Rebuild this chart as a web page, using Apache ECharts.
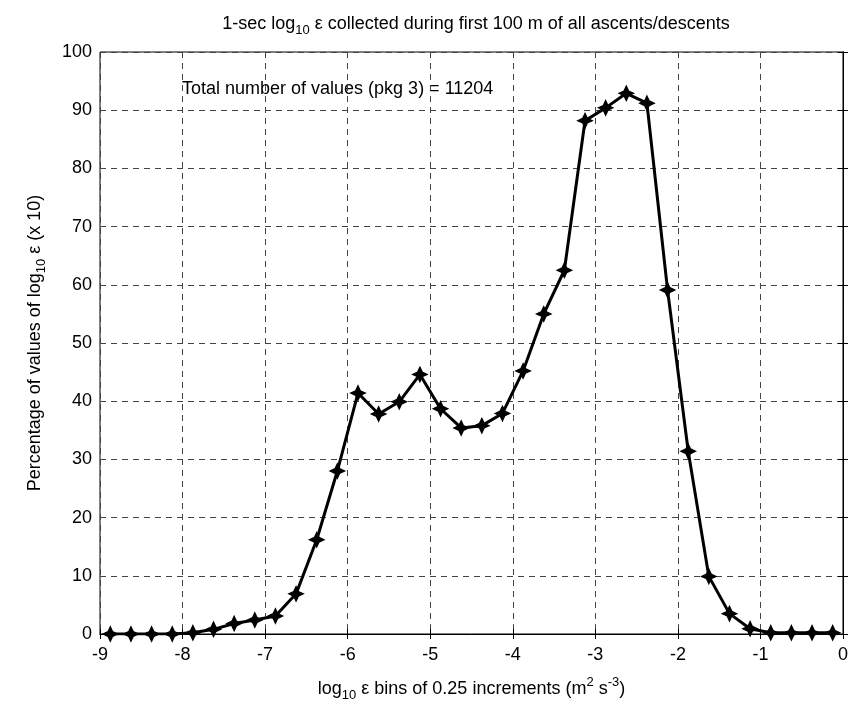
<!DOCTYPE html>
<html>
<head>
<meta charset="utf-8">
<script src="https://cdn.jsdelivr.net/npm/echarts@6/dist/echarts.min.js"></script>
<style>
  html, body { margin: 0; padding: 0; background: #fff; }
  #chart { width: 851px; height: 710px; }
</style>
</head>
<body>
<div id="chart"></div>
<script>
// bin centres (log10 eps), 0.25 wide
var binCentres = [
  -8.875, -8.625, -8.375, -8.125, -7.875, -7.625, -7.375, -7.125, -6.875, -6.625,
  -6.375, -6.125, -5.875, -5.625, -5.375, -5.125, -4.875, -4.625, -4.375, -4.125,
  -3.875, -3.625, -3.375, -3.125, -2.875, -2.625, -2.375, -2.125, -1.875, -1.625,
  -1.375, -1.125, -0.875, -0.625, -0.375, -0.125
];
// percentage of values (x 10)
var percentages = [
  0, 0, 0, 0, 0.2, 0.8, 1.8, 2.4, 3.1, 6.9,
  16.2, 28.0, 41.4, 37.8, 39.9, 44.6, 38.7, 35.4, 35.8, 37.9,
  45.2, 55.0, 62.5, 88.2, 90.4, 92.9, 91.2, 59.1, 31.4, 9.9,
  3.5, 0.9, 0.2, 0.2, 0.2, 0.2
];
var xTicks = [-9, -8, -7, -6, -5, -4, -3, -2, -1, 0];
var yTicks = [0, 10, 20, 30, 40, 50, 60, 70, 80, 90, 100];
var totalValues = 11204;

var chart = echarts.init(document.getElementById('chart'));

var font = 'Liberation Sans, Arial, Helvetica, sans-serif';
var richText = {
  n: { fontSize: 18, fontFamily: font, fontWeight: 'normal', color: '#000', lineHeight: 26 },
  s: { fontSize: 13, fontFamily: font, fontWeight: 'normal', color: '#000', lineHeight: 13, verticalAlign: 'bottom' },
  p: { fontSize: 13, fontFamily: font, fontWeight: 'normal', color: '#000', lineHeight: 13, verticalAlign: 'top' }
};

// fat four-pointed star, like the matlab markers
var star = 'path://M5,0 L6.6,3.4 L10,5 L6.6,6.6 L5,10 L3.4,6.6 L0,5 L3.4,3.4 Z';

var data = binCentres.map(function (x, i) { return [x, percentages[i]]; });

var gridLine = { show: true, lineStyle: { color: '#444', type: [6, 5], width: 1 } };

chart.setOption({
  animation: false,
  backgroundColor: '#fff',
  title: {
    text: '{n|1-sec log}{s|10}{n| ε collected during first 100 m of all ascents/descents}',
    left: 471,
    textAlign: 'center',
    top: 6,
    textStyle: { fontWeight: 'normal', rich: richText }
  },
  grid: {
    left: 100, right: 8, top: 52, bottom: 76,
    show: true, borderColor: '#000', borderWidth: 1
  },
  xAxis: [{
    type: 'value',
    min: xTicks[0],
    max: xTicks[xTicks.length - 1],
    interval: 1,
    name: '{n|log}{s|10}{n| ε bins of 0.25 increments (m}{p|2}{n| s}{p|-3}{n|)}',
    nameLocation: 'middle',
    nameGap: 42,
    nameTextStyle: { rich: richText },
    axisLine: { show: true, onZero: false, lineStyle: { color: '#000', width: 1 } },
    axisTick: { show: true, inside: true, length: 5, lineStyle: { color: '#000' } },
    axisLabel: { color: '#000', fontSize: 18, fontFamily: font, margin: 12 },
    splitLine: gridLine
  }, {
    type: 'value', position: 'top',
    min: xTicks[0], max: xTicks[xTicks.length - 1], interval: 1,
    axisLine: { show: true, lineStyle: { color: '#000' } },
    axisTick: { show: true, inside: true, length: 5, lineStyle: { color: '#000' } },
    axisLabel: { show: false }, splitLine: { show: false }
  }],
  yAxis: [{
    type: 'value',
    min: yTicks[0],
    max: yTicks[yTicks.length - 1],
    interval: 10,
    name: '{n|Percentage of values of log}{s|10}{n| ε (x 10)}',
    nameLocation: 'middle',
    nameGap: 52,
    nameRotate: 90,
    nameTextStyle: { rich: richText },
    axisLine: { show: true, lineStyle: { color: '#000', width: 1 } },
    axisTick: { show: true, inside: true, length: 5, lineStyle: { color: '#000' } },
    axisLabel: { color: '#000', fontSize: 18, fontFamily: font, margin: 8 },
    splitLine: gridLine
  }, {
    type: 'value', position: 'right',
    min: yTicks[0], max: yTicks[yTicks.length - 1], interval: 10,
    axisLine: { show: true, lineStyle: { color: '#000' } },
    axisTick: { show: true, inside: true, length: 5, lineStyle: { color: '#000' } },
    axisLabel: { show: false }, splitLine: { show: false }
  }],
  graphic: [{
    type: 'text',
    left: 182,
    top: 80,
    style: {
      text: 'Total number of values (pkg 3) = ' + totalValues,
      fontSize: 18,
      fontFamily: font,
      fill: '#000'
    }
  }],
  series: [{
    type: 'line',
    data: data,
    symbol: star,
    symbolSize: 14,
    showAllSymbol: true,
    lineStyle: { color: '#000', width: 3 },
    itemStyle: { color: '#000', borderColor: '#000', borderWidth: 1.5 },
    z: 5
  }]
});
</script>
</body>
</html>
